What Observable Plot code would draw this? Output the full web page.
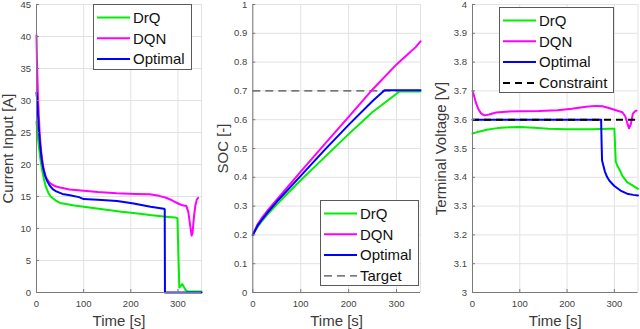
<!DOCTYPE html>
<html><head><meta charset="utf-8">
<script src="https://cdn.jsdelivr.net/npm/d3@7"></script>
<script src="https://cdn.jsdelivr.net/npm/@observablehq/plot@0.6"></script>
<style>
body{margin:0;background:#fff;}
#wrap{position:relative;width:640px;height:329px;overflow:hidden;font-family:"Liberation Sans",Arial,Helvetica,sans-serif;}
.panel{position:absolute;top:0;}
.legend{position:absolute;overflow:visible;}
</style></head><body><div id="wrap"></div>
<script>
// ---------- data ----------
const timeTicks = [0, 100, 200, 300];
const timeGrid = [0, 100, 200, 300, 350];
const timeLabel = "Time [s]";
const seriesNames = ["DrQ", "DQN", "Optimal"];
const seriesColors = ["#00ee00", "#ff00ff", "#0000ff"];

// Panel 1: current input [A]
const curTicks = [0, 5, 10, 15, 20, 25, 30, 35, 40, 45];
const curLabel = "Current Input [A]";
const curT_DrQ = [0,2,4,6,8,10,13,16,20,25,30,40,50,65,80,100,120,140,160,180,200,220,240,260,280,295,299,301,303,305,309,312,316,320,330,340,350];
const curV_DrQ = [26.7,25,23.5,22.2,21,20.0,18.7,17.6,16.5,15.6,15.0,14.4,14.0,13.8,13.6,13.4,13.2,13.0,12.8,12.6,12.45,12.3,12.1,11.95,11.8,11.7,11.6,6,0.8,0.9,1.3,1.0,0.4,0.2,0.15,0.15,0.15];
const curT_DQN = [0,1,3,5,7,10,13,16,20,25,30,40,50,70,100,130,170,210,240,260,275,285,295,305,312,318,322,326,329,331,334,337,340,343];
const curV_DQN = [40.2,36,31,27.5,24.5,22,20.2,19,18,17.4,17.0,16.6,16.4,16.1,15.9,15.7,15.5,15.4,15.35,15.1,14.8,14.5,14.1,13.75,13.6,13.5,12.6,10.5,8.9,9.3,11.8,13.6,14.5,14.8];
const curT_Opt = [0,1,3,5,8,11,14,18,22,28,35,42,55,71,90,100,130,171,206,242,270,272,272.5,350];
const curV_Opt = [31.2,30.5,28,25.5,22.8,20.8,19.5,18.3,17.5,16.7,16.1,15.8,15.4,15.2,14.9,14.6,14.5,14.3,13.9,13.4,13.1,13.0,0,0];

// Panel 2: SOC [-]
const socTicks = [0, 0.1, 0.2, 0.3, 0.4, 0.5, 0.6, 0.7, 0.8, 0.9, 1];
const socLabel = "SOC [-]";
const socTarget = [0.7];
const socTargetName = "Target";
const socT_DrQ = [0,10,20,30,50,75,100,150,200,250,300,306,350];
const socV_DrQ = [0.2,0.228,0.25,0.27,0.305,0.348,0.39,0.47,0.55,0.627,0.69,0.698,0.698];
const socT_DQN = [0,10,20,30,50,100,150,200,250,300,320,340,350];
const socV_DQN = [0.2,0.237,0.262,0.283,0.322,0.42,0.515,0.61,0.705,0.792,0.822,0.852,0.872];
const socT_Opt = [0,10,20,30,50,100,150,200,250,275,350];
const socV_Opt = [0.2,0.232,0.255,0.276,0.315,0.405,0.495,0.582,0.665,0.702,0.702];

// Panel 3: terminal voltage [V]
const voltTicks = [3, 3.1, 3.2, 3.3, 3.4, 3.5, 3.6, 3.7, 3.8, 3.9, 4];
const voltLabel = "Terminal Voltage [V]";
const voltConstraint = [3.6];
const voltConstraintName = "Constraint";
const voltT_DrQ = [0,10,20,30,45,60,80,100,130,160,200,250,290,300,301.5,303,306,313,317,327,340,350];
const voltV_DrQ = [3.552,3.557,3.561,3.565,3.569,3.572,3.574,3.575,3.572,3.569,3.567,3.567,3.569,3.569,3.51,3.455,3.441,3.42,3.405,3.383,3.37,3.36];
const voltT_DQN = [0,3,7,12,18,25,35,50,70,100,140,180,210,240,260,275,290,305,317,323,327,331,335,339,343,347];
const voltV_DQN = [3.70,3.685,3.66,3.638,3.622,3.615,3.618,3.625,3.628,3.629,3.630,3.633,3.638,3.645,3.648,3.647,3.640,3.632,3.626,3.612,3.59,3.570,3.585,3.62,3.628,3.632];
const voltT_Opt = [0,272,273,274,280,285,290,300,313,327,340,350];
const voltV_Opt = [3.6,3.6,3.52,3.458,3.42,3.40,3.387,3.37,3.354,3.343,3.339,3.337];

// ---------- style ----------
const FONT = '"Liberation Sans", Arial, Helvetica, sans-serif';
const GRID = "#e2e2e2";
const AXIS = "#7a7a7a";
const TICKC = "#444444";
const LABC = "#3a3a3a";
const wrap = document.getElementById("wrap");

const fmt1 = d => String(+(+d).toFixed(1));

function line(ts, vs, color) {
  return Plot.line(ts, {x: ts, y: vs, stroke: color, strokeWidth: 2, strokeLinejoin: "round", strokeLinecap: "round"});
}

function makePanel({left, width, marginLeft, marginRight, yDomain, yTicks, yFmt, yLabel, yLabelDx, before = [], marks, after = []}) {
  const p = Plot.plot({
    width, height: 329, marginLeft, marginRight, marginTop: 4, marginBottom: 37,
    style: {fontFamily: FONT, background: "transparent", overflow: "visible"},
    x: {domain: [0, 350]},
    y: {domain: yDomain},
    marks: [
      Plot.gridX(timeGrid, {stroke: GRID, strokeOpacity: 1}),
      Plot.gridY(yTicks, {stroke: GRID, strokeOpacity: 1}),
      ...before,
      ...marks,
      ...after,
      Plot.ruleX([0], {stroke: AXIS, strokeWidth: 1}),
      Plot.ruleY([yDomain[0]], {stroke: AXIS, strokeWidth: 1}),
      Plot.axisX(timeTicks, {tickSize: -3, tickPadding: 11, label: null, fontSize: 9.5, color: TICKC, stroke: AXIS}),
      Plot.axisY(yTicks, {tickFormat: yFmt, tickSize: -3, tickPadding: 8.5, label: null, fontSize: 9.5, color: TICKC, stroke: AXIS}),
      Plot.text([yLabel], {frameAnchor: "left", textAnchor: "middle", lineAnchor: "middle", rotate: -90, dx: yLabelDx, fontSize: 15, fill: LABC}),
      Plot.text([timeLabel], {frameAnchor: "bottom", textAnchor: "middle", lineAnchor: "middle", dy: 29, fontSize: 15, fill: LABC})
    ]
  });
  p.classList.add("panel");
  p.style.left = left + "px";
  wrap.appendChild(p);
}

function makeLegend({left, top, w, h, entries}) {
  const svg = d3.create("svg").attr("class", "legend").attr("width", w + 2).attr("height", h + 2)
    .style("left", (left - 0.5) + "px").style("top", (top - 0.5) + "px");
  svg.append("rect").attr("x", 0.5).attr("y", 0.5).attr("width", w).attr("height", h)
    .attr("fill", "#fff").attr("stroke", "#5a5a5a").attr("stroke-width", 1);
  entries.forEach((e, i) => {
    const y = 0.5 + 13 + i * 20.8;
    svg.append("line").attr("x1", 4).attr("x2", 37).attr("y1", y).attr("y2", y)
      .attr("stroke", e.color).attr("stroke-width", e.width || 2)
      .attr("stroke-dasharray", e.dash || null);
    svg.append("text").attr("x", 40).attr("y", y).attr("dy", "0.35em")
      .attr("font-family", FONT).attr("font-size", 15).attr("fill", "#111").text(e.name);
  });
  wrap.appendChild(svg.node());
}

// Panel 1
makePanel({
  left: 0, width: 210, marginLeft: 36, marginRight: 9,
  yDomain: [0, 45], yTicks: curTicks, yFmt: d => String(d), yLabel: curLabel, yLabelDx: -28,
  marks: [
    line(curT_DrQ, curV_DrQ, seriesColors[0]),
    line(curT_DQN, curV_DQN, seriesColors[1]),
    line(curT_Opt, curV_Opt, seriesColors[2])
  ]
});
// Panel 2
makePanel({
  left: 210, width: 220, marginLeft: 42.3, marginRight: 10,
  yDomain: [0, 1], yTicks: socTicks, yFmt: fmt1, yLabel: socLabel, yLabelDx: -29.5,
  before: [Plot.ruleY(socTarget, {stroke: "#4d4d4d", strokeWidth: 1.2, strokeDasharray: "8,5"})],
  marks: [
    line(socT_DrQ, socV_DrQ, seriesColors[0]),
    line(socT_DQN, socV_DQN, seriesColors[1]),
    line(socT_Opt, socV_Opt, seriesColors[2])
  ]
});
// Panel 3
makePanel({
  left: 430, width: 210, marginLeft: 42, marginRight: 2.5,
  yDomain: [3, 4], yTicks: voltTicks, yFmt: fmt1, yLabel: voltLabel, yLabelDx: -31,
  marks: [
    line(voltT_DrQ, voltV_DrQ, seriesColors[0]),
    line(voltT_DQN, voltV_DQN, seriesColors[1]),
    line(voltT_Opt, voltV_Opt, seriesColors[2])
  ],
  after: [Plot.ruleY(voltConstraint, {stroke: "#000", strokeWidth: 2, strokeDasharray: "7,5"})]
});

const baseEntries = seriesNames.map((n, i) => ({name: n, color: seriesColors[i]}));
makeLegend({left: 93, top: 4, w: 98, h: 65, entries: baseEntries});
makeLegend({left: 320, top: 200.5, w: 98, h: 85, entries: [...baseEntries, {name: socTargetName, color: "#4d4d4d", width: 1.2, dash: "8,5"}]});
makeLegend({left: 499, top: 7, w: 114, h: 85, entries: [...baseEntries, {name: voltConstraintName, color: "#000", width: 2, dash: "7,5"}]});
</script>
</body></html>
